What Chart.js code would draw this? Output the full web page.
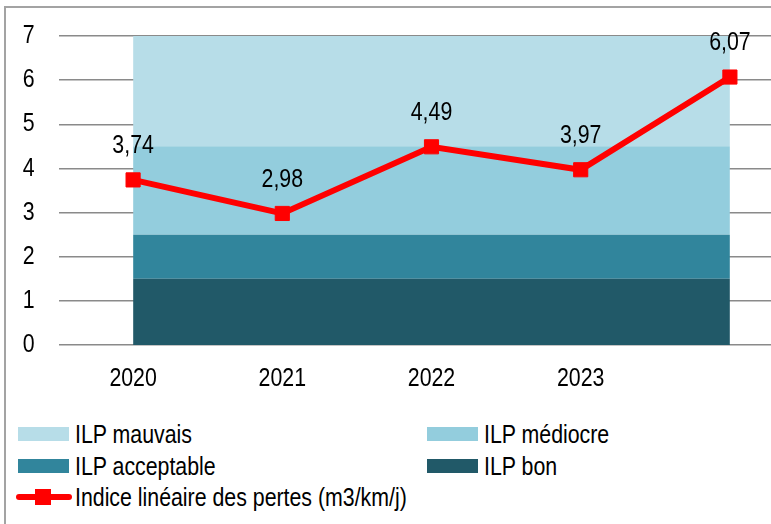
<!DOCTYPE html>
<html>
<head>
<meta charset="utf-8">
<script src="https://cdn.jsdelivr.net/npm/chart.js@4/dist/chart.umd.min.js"></script>
<style>
  html, body { margin: 0; padding: 0; background: #fff; overflow: hidden; width: 771px; height: 524px; }
  #frame { position: absolute; left: 4px; top: 6px; width: 1000px; height: 1000px; border: 2px solid #a3a3a3; box-sizing: border-box; }
  #wrap { position: absolute; left: 0; top: 0; width: 820px; height: 400px; }
  .lg { position: absolute; font-family: 'Liberation Sans', Arial, sans-serif; font-size: 26px; color: #000; line-height: 30px; white-space: nowrap; }
  .lg .box { position: absolute; left: 0; top: 8px; width: 51px; height: 14px; }
  .lg .txt { position: absolute; left: 57px; top: 0; transform: scaleX(0.82); transform-origin: 0 0; }
  .lg .ln { position: absolute; left: -2px; top: 12px; width: 56px; height: 6px; background: #ff0000; border-radius: 3px; }
  .lg .sq { position: absolute; left: 17px; top: 7px; width: 16px; height: 16px; background: #ff0000; }
</style>
</head>
<body>
<div id="frame"></div>
<div id="wrap"><canvas id="c"></canvas></div>
<div id="legend"></div>
<script>
// categories (last point has no label)
const years = ['2020', '2021', '2022', '2023', ''];
// indice linéaire des pertes (m3/km/j)
const ilp = [3.74, 2.98, 4.49, 3.97, 6.07];
// upper limit of each ILP band
const bandBon = [1.5, 1.5, 1.5, 1.5, 1.5];
const bandAcceptable = [2.5, 2.5, 2.5, 2.5, 2.5];
const bandMediocre = [4.5, 4.5, 4.5, 4.5, 4.5];
const bandMauvais = [7, 7, 7, 7, 7];
const yTicks = [0, 1, 2, 3, 4, 5, 6, 7];

const FONT = "'Liberation Sans', Arial, sans-serif";
const NARROW = 0.82; // pas d'Arial Narrow installee -> on compresse le texte

function band(label, data, color, fill) {
    return {
        label: label, data: data, fill: fill,
        backgroundColor: color, borderColor: 'rgba(0,0,0,0)', borderWidth: 0,
        pointRadius: 0, tension: 0
    };
}

// valeurs au-dessus des points
const valueLabels = {
    id: 'valueLabels',
    afterDatasetsDraw(chart) {
        const ctx = chart.ctx;
        const meta = chart.getDatasetMeta(0);
        ctx.save();
        ctx.font = '26px ' + FONT;
        ctx.fillStyle = '#000';
        ctx.textAlign = 'center';
        ctx.textBaseline = 'middle';
        meta.data.forEach((pt, i) => {
            ctx.fillText(ilp[i].toFixed(2).replace('.', ','), pt.x, pt.y - 34);
        });
        ctx.restore();
    }
};

const canvas = document.getElementById('c');
// texte condense facon Arial Narrow
const ctx2d = canvas.getContext('2d');
const rawFillText = ctx2d.fillText.bind(ctx2d);
ctx2d.fillText = function (text, x, y, maxW) {
    this.save();
    this.translate(x, y);
    this.scale(NARROW, 1);
    rawFillText(text, 0, 0);
    this.restore();
};

const chart = new Chart(canvas, {
    type: 'line',
    data: {
        labels: years,
        datasets: [
            {
                label: 'Indice linéaire des pertes (m3/km/j)', data: ilp, fill: false,
                borderColor: '#ff0000', backgroundColor: '#ff0000', borderWidth: 6,
                pointStyle: 'rect', pointRadius: 10, pointBorderWidth: 1, tension: 0
            },
            band('ILP bon', bandBon, '#215968', 'origin'),
            band('ILP acceptable', bandAcceptable, '#31859c', '-1'),
            band('ILP médiocre', bandMediocre, '#93cddd', '-1'),
            band('ILP mauvais', bandMauvais, '#b7dde8', '-1')
        ]
    },
    options: {
        responsive: true, maintainAspectRatio: false, animation: false,
        layout: { padding: { top: 36, right: 15.5, bottom: 5, left: 0 } },
        plugins: { legend: { display: false }, tooltip: { enabled: false } },
        scales: {
            x: {
                offset: true,
                grid: { display: false, drawTicks: false },
                border: { display: false },
                ticks: { font: { family: FONT, size: 26 }, color: '#000', padding: 18, maxRotation: 0 },
                afterFit(s) { s.height = 50; }
            },
            y: {
                min: 0, max: 7,
                afterBuildTicks(s) { s.ticks = yTicks.map(v => ({ value: v })); },
                grid: { color: '#8a8a8a', lineWidth: 1.5, drawTicks: false },
                border: { display: false },
                ticks: { font: { family: FONT, size: 26 }, color: '#000', padding: 24 },
                afterFit(s) { s.width = 58.5; s.paddingTop = 0; s.paddingBottom = 0; }
            }
        }
    },
    plugins: [valueLabels]
});

// legende en deux colonnes
const legendSpots = [
    { ds: 4, left: 18, top: 419 },
    { ds: 3, left: 427, top: 419 },
    { ds: 2, left: 18, top: 451 },
    { ds: 1, left: 427, top: 451 },
    { ds: 0, left: 18, top: 482 }
];
const legend = document.getElementById('legend');
legendSpots.forEach(s => {
    const ds = chart.data.datasets[s.ds];
    const item = document.createElement('div');
    item.className = 'lg';
    item.style.left = s.left + 'px';
    item.style.top = s.top + 'px';
    if (ds.fill === false) {
        item.innerHTML = '<div class="ln"></div><div class="sq"></div><div class="txt">' + ds.label + '</div>';
    } else {
        item.innerHTML = '<div class="box" style="background:' + ds.backgroundColor + '"></div><div class="txt">' + ds.label + '</div>';
    }
    legend.appendChild(item);
});
</script>
</body>
</html>
